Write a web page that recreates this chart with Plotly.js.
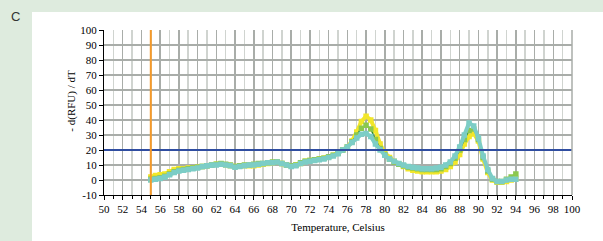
<!DOCTYPE html>
<html><head><meta charset="utf-8">
<script src="https://cdn.plot.ly/plotly-3.0.1.min.js"></script>
<style>
html,body{margin:0;padding:0;width:603px;height:241px;background:#deebde;overflow:hidden;}
#c{position:absolute;left:32px;top:12px;width:571px;height:229px;}
#lab{position:absolute;left:11px;top:9px;font-family:"Liberation Sans",Arial,sans-serif;font-size:13px;color:#333;}
</style></head>
<body>
<div id="lab">C</div>
<div id="c"></div>
<script>
const temps = [55,55.5,56,56.5,57,57.5,58,58.5,59,59.5,60,60.5,61,61.5,62,62.5,63,63.5,64,64.5,65,65.5,66,66.5,67,67.5,68,68.5,69,69.5,70,70.5,71,71.5,72,72.5,73,73.5,74,74.5,75,75.5,76,76.5,77,77.5,78,78.5,79,79.5,80,80.5,81,81.5,82,82.5,83,83.5,84,84.5,85,85.5,86,86.5,87,87.5,88,88.5,89,89.5,90,90.5,91,91.5,92,92.5,93,93.5,94];
const yellowVals = [2,3,3.5,4,5.5,7,7.5,7.5,8,8, 8.5,9,9.5,10,10.5,10.5,10,9.5,9,9.5, 9.5,9.5,9.5,10,10.5,11,11.5,12,11,10, 9.5,10,11,12.5,13,13.5,14,14.5,15.5,16.5, 18,20,22,26,32,39,42.5,40,33,24, 18,15,12.5,10.5,9,7.5,6.5,6,5.5,5.5, 5.5,5.5,6,7,9,12,17,24,29,31, 26,14,5,0,-1.5,-1.5,-1,0,1];
const greenVals = [0.5,1,1.5,2.5,4,5.5,6.5,7,7.5,8, 8.5,9,9.5,10,10.5,11,10.5,10,9,9.5, 10,10,10.5,11,11,11.5,12,12,11,10, 9.5,10,11.5,12.5,13,13.5,14,14.5,15.5,16.5, 18,20,22,25.5,30,34.5,36.5,34,27,21, 17,14,12,10.5,9.5,8.5,8,7.5,7,7, 7,7,7.5,9,11,14.5,20,27,33,34, 27,15,6,0.5,-1,-1,0.5,2,4];
const cyanVals = [0,0.5,1,2,3.5,5,6,6.5,7,7.5, 8,9,9.5,10,10,10.5,10,9.5,8.5,9, 9.5,10,10,10.5,11,11.5,11.5,12,11,10, 9,9.5,11,12,12.5,13,13.5,14,15,16, 17.5,20,22,25,28,30.5,31,29,24,20, 16.5,14,12.5,11,10,9,8.5,8,7.5,7.5, 7.5,8,8.5,10,12,16,22,30,38,36, 28,16,7,1,-1,-1,0,0.5,0.5];
const xTickVals = [50,52,54,56,58,60,62,64,66,68,70,72,74,76,78,80,82,84,86,88,90,92,94,96,98,100];
const xTickText = ["50","52","54","56","58","60","62","64","66","68","70","72","74","76","78","80","82","84","86","88","90","92","94","96","98","100"];
const yTickVals = [-10,0,10,20,30,40,50,60,70,80,90,100];
const yTickText = ["-10","0","10","20","30","40","50","60","70","80","90","100"];
const startTemp = 55;
const threshold = 20;

const mk = (y, mcol, lcol, lw) => ({
  x: temps, y: y, type: 'scatter', mode: 'lines+markers',
  line: {color: lcol, width: lw},
  marker: {symbol: 'square', size: 5.5, color: mcol, line: {width: 0}},
  hoverinfo: 'skip', showlegend: false, cliponaxis: true
});

const data = [
  mk(yellowVals, '#f2e62a', '#f2e62a', 4),
  mk(greenVals, '#8cc84e', '#2f8a2a', 1.5),
  mk(cyanVals, '#7ccdc6', '#7ccdc6', 4)
];

const fontTick = {family: '"Liberation Serif", "Times New Roman", serif', size: 11, color: '#000'};
const layout = {
  width: 571, height: 229,
  margin: {l: 72, r: 31, t: 18, b: 46},
  paper_bgcolor: '#ffffff', plot_bgcolor: '#ffffff',
  xaxis: {
    range: [50, 100], tickvals: xTickVals, ticktext: xTickText,
    ticks: 'outside', ticklen: 4, tickcolor: '#000', tickwidth: 1,
    showline: true, linecolor: '#000', linewidth: 1,
    showgrid: true, gridcolor: '#a9ada9', gridwidth: 1.5,
    minor: {dtick: 1, showgrid: true, gridcolor: '#d0d4d0', gridwidth: 1.5, ticks: 'outside', ticklen: 3, tickcolor: '#000'},
    zeroline: false, tickfont: fontTick,
    title: {text: 'Temperature, Celsius', font: fontTick, standoff: 9}
  },
  yaxis: {
    range: [-10, 100], tickvals: yTickVals, ticktext: yTickText,
    ticks: 'outside', ticklen: 4, tickcolor: '#000', tickwidth: 1,
    showline: true, linecolor: '#000', linewidth: 1,
    showgrid: true, gridcolor: '#a9ada9', gridwidth: 1.5,
    zeroline: false, tickfont: fontTick
  },
  annotations: [
    {text: '- d(RFU) / dT', xref: 'paper', yref: 'paper', x: -0.069, y: 0.57, textangle: -90,
     showarrow: false, font: fontTick, xanchor: 'center', yanchor: 'middle'}
  ],
  shapes: [
    {type: 'line', xref: 'paper', yref: 'y', x0: 0, x1: 1, y0: threshold, y1: threshold, line: {color: '#2f4da0', width: 2}},
    {type: 'line', xref: 'x', yref: 'paper', x0: startTemp, x1: startTemp, y0: 0, y1: 1, line: {color: '#f59a2a', width: 2}},
    {type: 'line', xref: 'paper', yref: 'paper', x0: 1, x1: 1, y0: 0, y1: 1, line: {color: '#a9ada9', width: 1.5}}
  ]
};
Plotly.newPlot('c', data, layout, {displayModeBar: false, staticPlot: true});
</script>
</body></html>
